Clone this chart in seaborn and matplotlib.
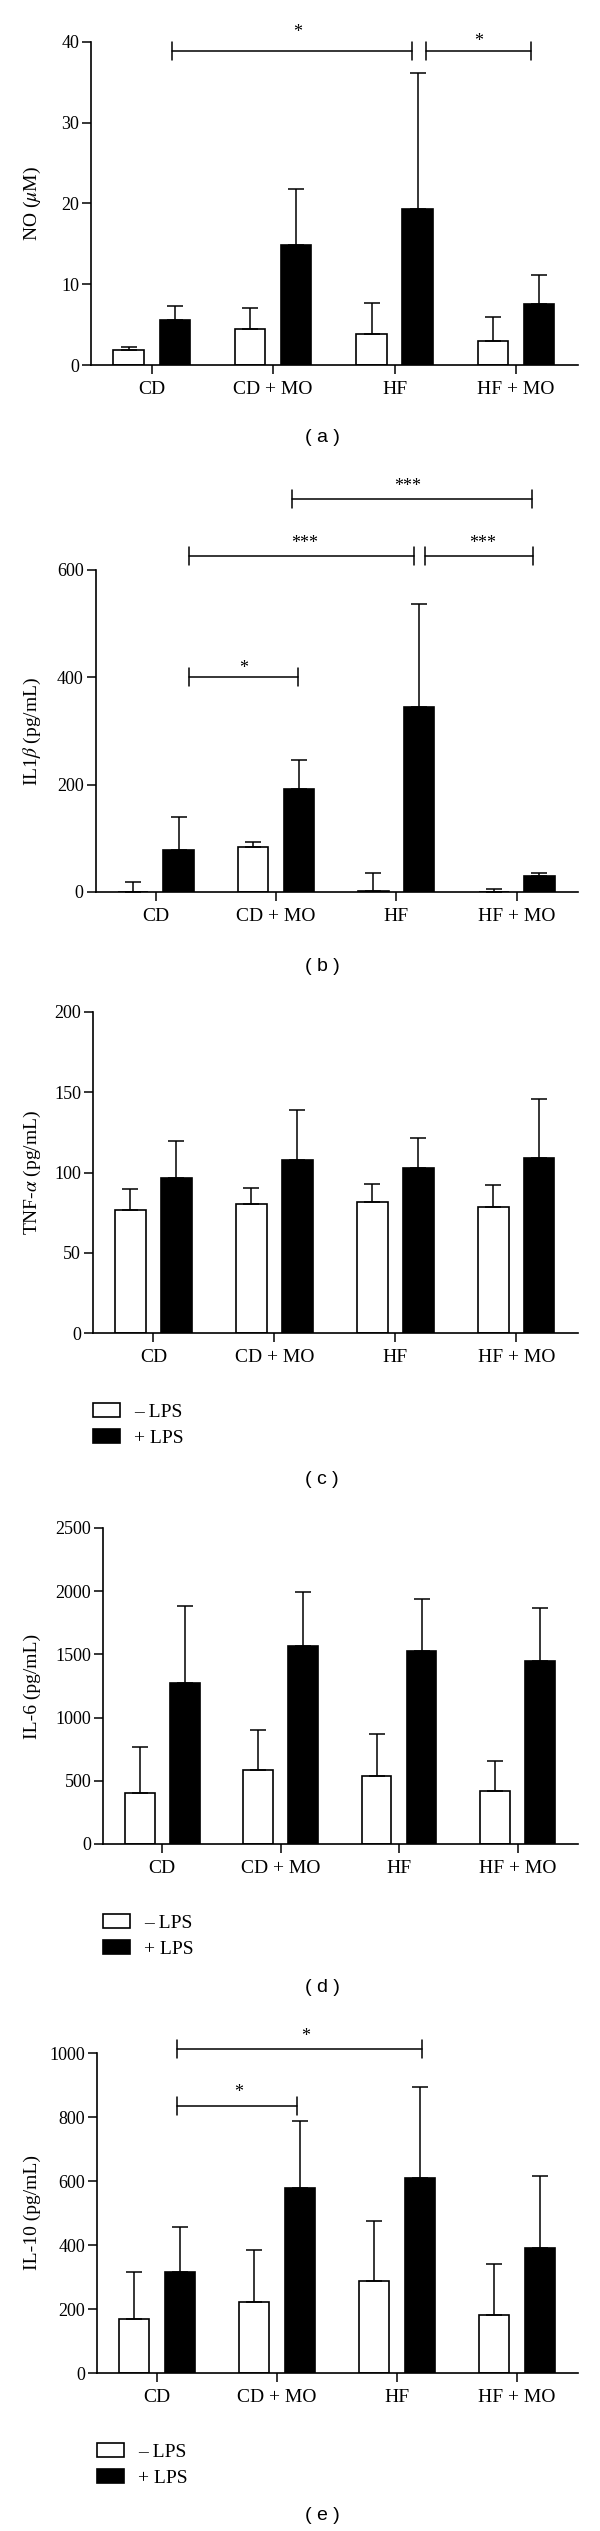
import numpy as np
import pandas as pd
import matplotlib
matplotlib.use("Agg")
import matplotlib.pyplot as plt
import seaborn as sns

groups = ["CD", "CD + MO", "HF", "HF + MO"]
lps_levels = ["– LPS", "+ LPS"]

# (a) NO
no_minus = [1.8, 4.4, 3.9, 3.0]
no_minus_sd = [0.4, 2.7, 3.8, 2.9]
no_plus = [5.6, 14.9, 19.3, 7.5]
no_plus_sd = [1.7, 6.9, 16.9, 3.7]

# (b) IL1beta
il1b_minus = [0, 84, 2, 0]
il1b_minus_sd = [18, 9, 34, 5]
il1b_plus = [79, 191, 345, 29]
il1b_plus_sd = [61, 55, 191, 6]

# (c) TNF-alpha
tnf_minus = [76.6, 80.3, 81.5, 78.3]
tnf_minus_sd = [13.4, 10.2, 11.5, 13.9]
tnf_plus = [96.3, 107.8, 103.1, 108.9]
tnf_plus_sd = [23.2, 30.9, 18.1, 37.1]

# (d) IL-6
il6_minus = [403, 587, 539, 418]
il6_minus_sd = [363, 316, 335, 237]
il6_plus = [1276, 1563, 1526, 1447]
il6_plus_sd = [606, 434, 416, 419]

# (e) IL-10
il10_minus = [170, 222, 287, 181]
il10_minus_sd = [145, 162, 187, 161]
il10_plus = [315, 578, 609, 390]
il10_plus_sd = [142, 210, 285, 227]

# significance brackets: (from, to, level) and stars: (x, y, text)
no_brackets = [(0.17, 2.14, 38.9), (2.26, 3.12, 38.9)]
no_stars = [(1.2, 41.2, "*"), (2.69, 40.0, "*")]
il1b_brackets = [(0.28, 1.18, 400), (0.28, 2.15, 626), (2.24, 3.14, 626), (1.13, 3.13, 732)]
il1b_stars = [(0.73, 416, "*"), (1.24, 650, "***"), (2.72, 650, "***"), (2.09, 756, "***")]
il10_brackets = [(0.17, 1.17, 833), (0.17, 2.21, 1013)]
il10_stars = [(0.68, 876, "*"), (1.24, 1053, "*")]

sns.set_theme(style="ticks")
plt.rcParams["font.family"] = ["Liberation Serif", "DejaVu Serif"]
plt.rcParams["mathtext.fontset"] = "stix"
for k in ["text.color", "axes.labelcolor", "xtick.color", "ytick.color", "axes.edgecolor"]:
    plt.rcParams[k] = "black"

W, H = 600, 2531
fig = plt.figure(figsize=(W / 100, H / 100), dpi=100)


def panel(left, top, bottom, minus, minus_sd, plus, plus_sd, ymax, ystep, ylabel,
          brackets=(), stars=(), legend=False):
    right = 578
    ax = fig.add_axes([left / W, 1 - bottom / H, (right - left) / W, (bottom - top) / H])
    df = pd.DataFrame({"group": groups * 2,
                       "lps": [lps_levels[0]] * 4 + [lps_levels[1]] * 4,
                       "value": minus + plus})
    sns.barplot(data=df, x="group", y="value", hue="lps", order=groups, hue_order=lps_levels,
                palette={lps_levels[0]: "white", lps_levels[1]: "black"},
                edgecolor="black", linewidth=1.2, width=0.76, gap=0.34,
                errorbar=None, legend=legend, ax=ax)
    for cont, sd in zip(ax.containers, [minus_sd, plus_sd]):
        xs = [p.get_x() + p.get_width() / 2 for p in cont.patches]
        ys = [p.get_height() for p in cont.patches]
        ax.errorbar(xs, ys, yerr=[np.zeros(len(sd)), sd], fmt="none", ecolor="black",
                    elinewidth=1.1, capsize=5.6, capthick=1.1)
    ax.set_xlim(-0.5, 3.51)
    ax.set_ylim(0, ymax)
    ax.set_yticks(np.arange(0, ymax + 1e-9, ystep))
    ax.set_xlabel("")
    ax.set_ylabel(ylabel, fontsize=14)
    ax.yaxis.set_label_coords((32 - left) / (right - left), 0.5)
    ax.yaxis.label.set(ha="center", va="center")
    sns.despine(ax=ax)
    for s in ["left", "bottom"]:
        ax.spines[s].set_linewidth(1.2)
    ax.tick_params(axis="y", direction="out", length=6.5, width=1.1, labelsize=13, pad=2)
    ax.tick_params(axis="x", direction="out", length=6.5, width=1.1, labelsize=14, pad=5)
    h = 9 * ymax / (bottom - top)
    for x0, x1, y in brackets:
        ax.plot([x0, x1], [y, y], color="black", lw=1.1, clip_on=False)
        ax.plot([x0, x0], [y - h, y + h], color="black", lw=1.1, clip_on=False)
        ax.plot([x1, x1], [y - h, y + h], color="black", lw=1.1, clip_on=False)
    for x, y, t in stars:
        ax.text(x, y, t, ha="center", va="center", fontsize=13, clip_on=False)
    if legend:
        sns.move_legend(ax, "upper left", bbox_to_anchor=(left / W, 1 - (bottom + 70) / H),
                        bbox_transform=fig.transFigure, title=None, frameon=False,
                        borderpad=0, borderaxespad=0, handlelength=1.4, handleheight=0.7,
                        handletextpad=0.7, labelspacing=0.45, fontsize=14)
    return ax


panel(91, 42, 365, no_minus, no_minus_sd, no_plus, no_plus_sd, 40, 10,
      r"NO ($\mu$M)", no_brackets, no_stars)
panel(95.5, 570, 892, il1b_minus, il1b_minus_sd, il1b_plus, il1b_plus_sd, 600, 200,
      r"IL1$\beta$ (pg/mL)", il1b_brackets, il1b_stars)
panel(93, 1012, 1333, tnf_minus, tnf_minus_sd, tnf_plus, tnf_plus_sd, 200, 50,
      r"TNF-$\alpha$ (pg/mL)", legend=True)
panel(103, 1528, 1844, il6_minus, il6_minus_sd, il6_plus, il6_plus_sd, 2500, 500,
      "IL-6 (pg/mL)", legend=True)
panel(97, 2053, 2373, il10_minus, il10_minus_sd, il10_plus, il10_plus_sd, 1000, 200,
      "IL-10 (pg/mL)", il10_brackets, il10_stars, legend=True)

for letter, y in zip("abcde", [438, 967, 1480, 1987, 2515]):
    fig.text(322 / W, 1 - y / H, f"( {letter} )", ha="center", va="center",
             family="Liberation Sans", fontsize=14)

fig.savefig("out.png", dpi=100, facecolor="white")
